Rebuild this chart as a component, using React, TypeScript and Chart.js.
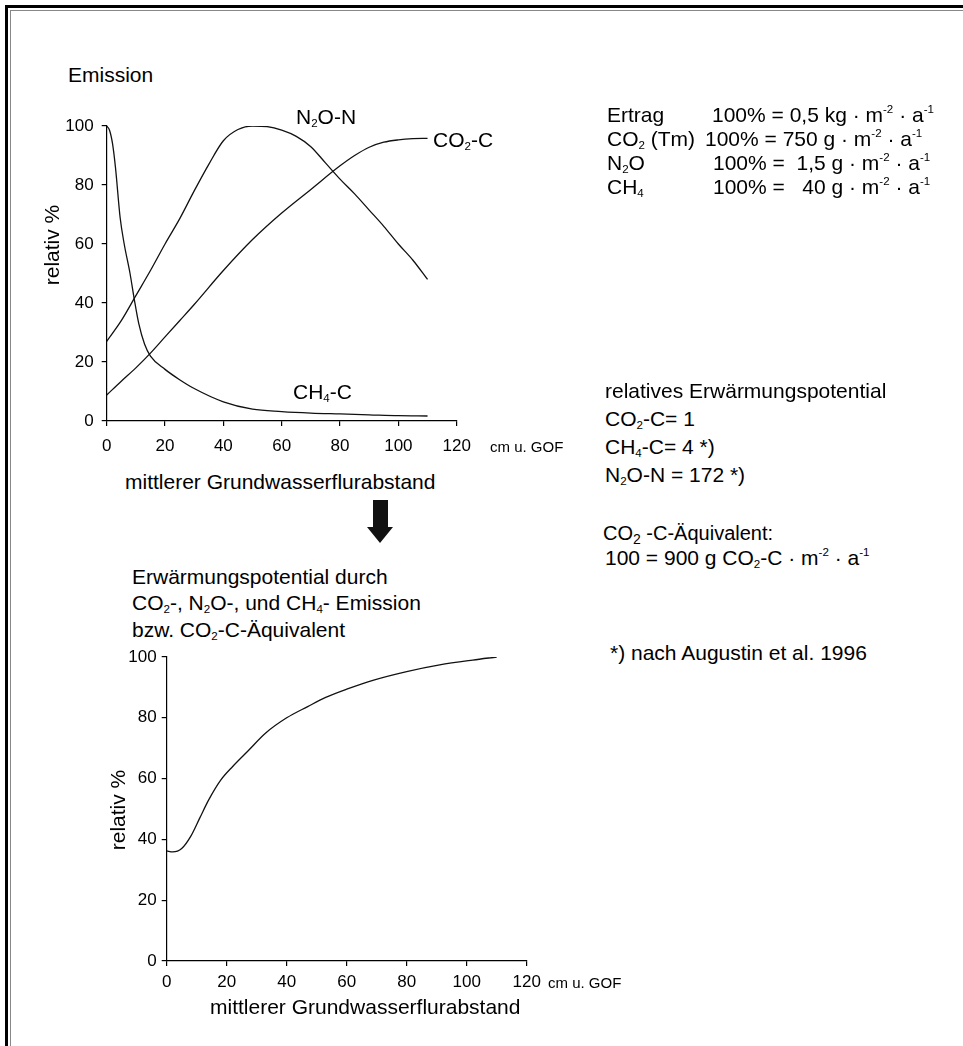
import React, { useEffect, useRef } from 'react';
import { Chart, registerables } from 'chart.js';

Chart.register(...registerables);

// ---------- data ----------
const depthTicks = [0, 20, 40, 60, 80, 100, 120];
const percentTicks = [0, 20, 40, 60, 80, 100];

const ch4Depth = [0, 1, 2, 3, 4.6, 6, 8, 9.5, 11, 13, 15, 20, 25, 30, 40, 50, 60, 70, 80, 90, 100, 110];
const ch4Values = [100, 98.5, 94, 86, 69, 60, 50, 41, 33, 26, 22, 17.5, 14, 11, 6.5, 4, 3.2, 2.7, 2.4, 2.1, 1.8, 1.7];

const n2oDepth = [0, 5, 10, 15, 20, 25, 30, 35, 40, 45, 50, 55, 60, 65, 70, 75, 80, 85, 90, 95, 100, 105, 110];
const n2oValues = [27, 34, 42.5, 51, 60, 68.5, 78, 87, 95, 98.8, 100, 99.8, 98.6, 96.5, 93, 87.5, 82, 77, 71.5, 66, 60, 54.5, 48];

const co2Depth = [0, 5, 10, 15, 20, 25, 30, 40, 50, 60, 70, 80, 85, 90, 95, 100, 105, 110];
const co2Values = [8.8, 13.5, 18, 23, 28.5, 34, 39.5, 51, 61.5, 70.5, 78.5, 86.5, 90, 92.8, 94.5, 95.3, 95.7, 95.8];

const gwpDepth = [0, 2, 5, 8, 11, 14, 18, 22, 27, 33, 40, 47, 53, 60, 69, 80, 91, 102, 110];
const gwpValues = [36.2, 35.9, 37, 41, 47, 53, 59.5, 64, 69, 75, 80, 83.7, 86.7, 89.4, 92.4, 95.2, 97.4, 99, 100];

const FONT = '"Liberation Sans", Arial, Helvetica, sans-serif';

type Series = { x: number[]; y: number[] };

function LineChart(props: {
  series: Series[];
  left: number; top: number; width: number; height: number;
  areaLeft: number; areaRight: number; areaTop: number; areaBottom: number;
  xPad: number; yPad: number;
}) {
  const ref = useRef<HTMLCanvasElement | null>(null);
  useEffect(() => {
    const p = props;
    const chart = new Chart(ref.current as HTMLCanvasElement, {
      type: 'line',
      data: {
        datasets: p.series.map((s) => ({
          data: s.x.map((x, i) => ({ x, y: s.y[i] })),
          borderColor: '#111',
          borderWidth: 1.3,
          pointRadius: 0,
          fill: false,
          cubicInterpolationMode: 'monotone' as const,
        })),
      },
      options: {
        animation: false,
        responsive: false,
        maintainAspectRatio: false,
        devicePixelRatio: 1,
        layout: { padding: { top: p.areaTop, right: p.width - p.areaRight, left: 0, bottom: 0 } },
        plugins: { legend: { display: false }, tooltip: { enabled: false }, title: { display: false } },
        scales: {
          x: {
            type: 'linear',
            min: 0,
            max: 120,
            afterBuildTicks: (s: any) => { s.ticks = depthTicks.map((v) => ({ value: v })); },
            afterFit: (s: any) => { s.height = p.height - p.areaBottom; },
            grid: { drawOnChartArea: false, drawTicks: true, tickLength: 5, color: '#000', lineWidth: 1.2 },
            border: { display: true, color: '#000', width: 1.2 },
            ticks: { color: '#000', font: { size: 17, family: FONT }, padding: p.xPad, maxRotation: 0, autoSkip: false },
          },
          y: {
            type: 'linear',
            min: 0,
            max: 100,
            afterBuildTicks: (s: any) => { s.ticks = percentTicks.map((v) => ({ value: v })); },
            afterFit: (s: any) => { s.width = p.areaLeft; },
            grid: { drawOnChartArea: false, drawTicks: true, tickLength: 5, color: '#000', lineWidth: 1.2 },
            border: { display: true, color: '#000', width: 1.2 },
            ticks: { color: '#000', font: { size: 17, family: FONT }, padding: p.yPad, autoSkip: false },
          },
        },
      } as any,
    });
    return () => chart.destroy();
  }, []);
  return (
    <canvas
      ref={ref}
      width={props.width}
      height={props.height}
      style={{ position: 'absolute', left: props.left, top: props.top, width: props.width, height: props.height }}
    />
  );
}

const Sub = ({ children, size = 0.55 }: { children: React.ReactNode; size?: number }) => (
  <span style={{ fontSize: `${size}em`, verticalAlign: '-0.3em', lineHeight: 0 }}>{children}</span>
);
const Sup = ({ children }: { children: React.ReactNode }) => (
  <span style={{ fontSize: '0.55em', verticalAlign: '0.75em', lineHeight: 0 }}>{children}</span>
);

function T(props: { x: number; y: number; size?: number; children: React.ReactNode }) {
  const size = props.size ?? 21;
  const lh = 24;
  return (
    <div
      style={{
        position: 'absolute', left: props.x, top: props.y - lh / 2, fontSize: size, lineHeight: `${lh}px`,
        whiteSpace: 'pre', fontFamily: FONT, color: '#000',
      }}
    >
      {props.children}
    </div>
  );
}

function RotT(props: { cx: number; cy: number; size?: number; children: React.ReactNode }) {
  const size = props.size ?? 21;
  return (
    <div
      style={{
        position: 'absolute', left: props.cx - 100, top: props.cy - 12, width: 200, height: 24, lineHeight: '24px',
        textAlign: 'center', fontSize: size, fontFamily: FONT, whiteSpace: 'pre', transform: 'rotate(-90deg)', color: '#000',
      }}
    >
      {props.children}
    </div>
  );
}

export default function App() {
  return (
    <div style={{ position: 'absolute', left: 0, top: 0, width: 963, height: 1046, background: '#fff', overflow: 'hidden', fontFamily: FONT }}>
      {/* frame */}
      <div style={{ position: 'absolute', left: 5, top: 5, width: 958, height: 3, background: '#000' }} />
      <div style={{ position: 'absolute', left: 5, top: 5, width: 3, height: 1041, background: '#000' }} />
      <div style={{ position: 'absolute', left: 10, top: 10, width: 953, height: 1, background: '#888' }} />
      <div style={{ position: 'absolute', left: 10, top: 10, width: 1, height: 1036, background: '#888' }} />

      {/* top chart */}
      <LineChart
        series={[{ x: ch4Depth, y: ch4Values }, { x: n2oDepth, y: n2oValues }, { x: co2Depth, y: co2Values }]}
        left={0} top={100} width={500} height={360}
        areaLeft={106.7} areaRight={456.7} areaTop={26} areaBottom={321}
        xPad={10} yPad={8}
      />
      <T x={68} y={75}>Emission</T>
      <RotT cx={52} cy={245}>relativ %</RotT>
      <T x={296} y={117}>N<Sub>2</Sub>O-N</T>
      <T x={433} y={140}>CO<Sub>2</Sub>-C</T>
      <T x={293} y={392}>CH<Sub>4</Sub>-C</T>
      <T x={490} y={447} size={15}>cm u. GOF</T>
      <T x={125} y={482}>mittlerer Grundwasserflurabstand</T>

      {/* right text */}
      <T x={607} y={115}>Ertrag</T>
      <T x={712} y={115}>100% = 0,5 kg · m<Sup>-2</Sup> · a<Sup>-1</Sup></T>
      <T x={607} y={139}>CO<Sub>2</Sub> (Tm)</T>
      <T x={705} y={139}>100% = 750 g · m<Sup>-2</Sup> · a<Sup>-1</Sup></T>
      <T x={607} y={163}>N<Sub>2</Sub>O</T>
      <T x={713} y={163}>{'100% =  1,5 g · m'}<Sup>-2</Sup> · a<Sup>-1</Sup></T>
      <T x={607} y={187}>CH<Sub>4</Sub></T>
      <T x={713} y={187}>{'100% =   40 g · m'}<Sup>-2</Sup> · a<Sup>-1</Sup></T>

      <T x={605} y={391}>relatives Erwärmungspotential</T>
      <T x={605} y={419}>CO<Sub>2</Sub>-C= 1</T>
      <T x={605} y={447}>CH<Sub>4</Sub>-C= 4 *)</T>
      <T x={605} y={475}>N<Sub>2</Sub>O-N = 172 *)</T>

      <T x={603} y={533} size={20}>CO<Sub size={0.7}>2</Sub> -C-Äquivalent:</T>
      <T x={605} y={558}>100 = 900 g CO<Sub>2</Sub>-C · m<Sup>-2</Sup> · a<Sup>-1</Sup></T>
      <T x={610} y={653}>*) nach Augustin et al. 1996</T>

      {/* arrow */}
      <svg style={{ position: 'absolute', left: 360, top: 495, width: 40, height: 55 }} width={40} height={55}>
        <polygon points="13,5 28,5 28,32 33,32 20,48 7,32 13,32" fill="#111" />
      </svg>

      {/* bottom chart */}
      <T x={132} y={577}>Erwärmungspotential durch</T>
      <T x={132} y={603}>CO<Sub>2</Sub>-, N<Sub>2</Sub>O-, und CH<Sub>4</Sub>- Emission</T>
      <T x={132} y={630}>bzw. CO<Sub>2</Sub>-C-Äquivalent</T>

      <LineChart
        series={[{ x: gwpDepth, y: gwpValues }]}
        left={0} top={630} width={560} height={370}
        areaLeft={166.7} areaRight={526.7} areaTop={27} areaBottom={331}
        xPad={6} yPad={5}
      />
      <RotT cx={118} cy={810}>relativ %</RotT>
      <T x={548} y={983} size={15}>cm u. GOF</T>
      <T x={210} y={1007}>mittlerer Grundwasserflurabstand</T>
    </div>
  );
}
